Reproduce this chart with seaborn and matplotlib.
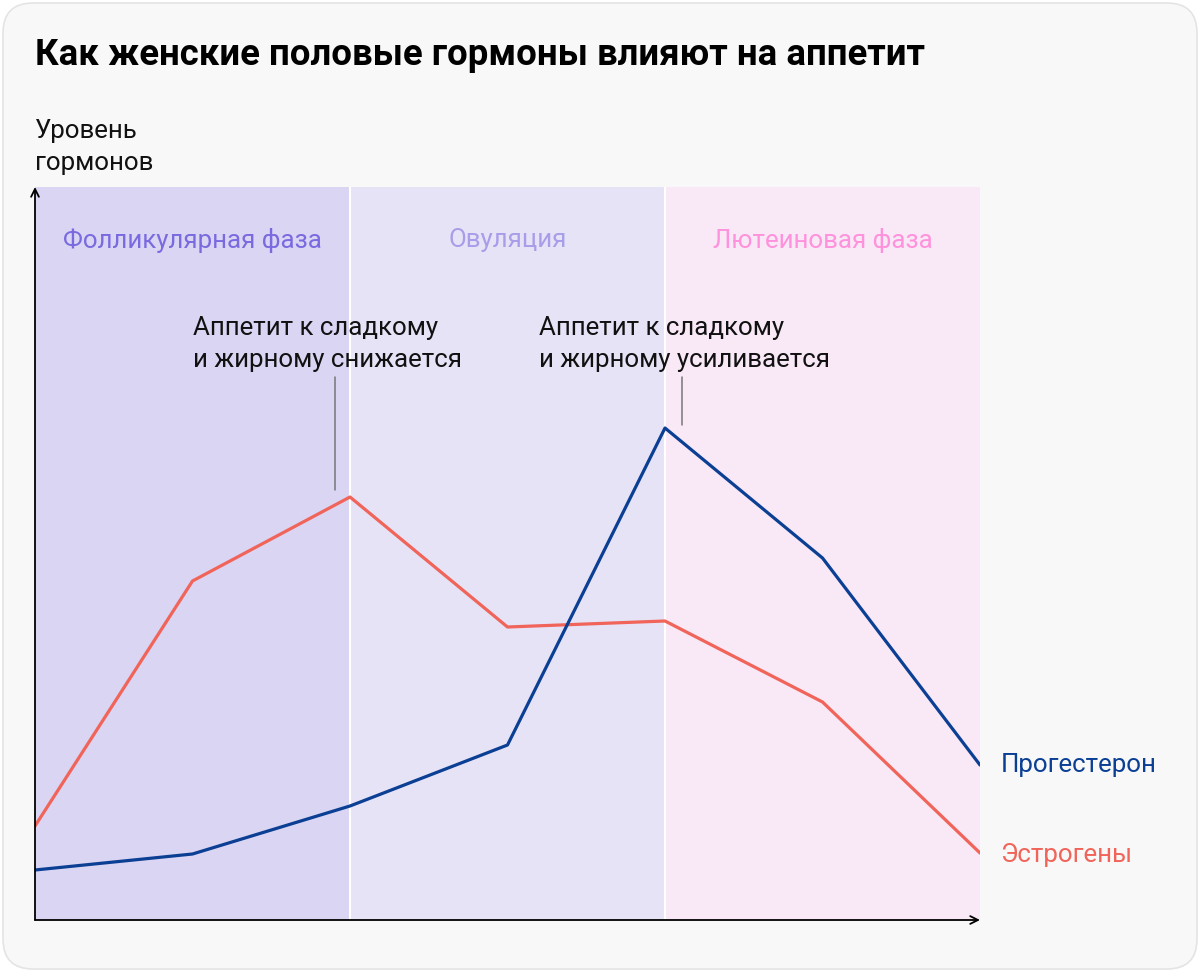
import pandas as pd
import numpy as np
import matplotlib.pyplot as plt
from matplotlib.patches import FancyBboxPatch
import seaborn as sns

# hormone levels at 7 points of the cycle (arbitrary units)
points = [0, 1, 2, 3, 4, 5, 6]
estrogen = [94, 339, 423, 293, 299, 218, 67]
progesterone = [50, 66, 114, 175, 492, 362, 155]

phases = ["Фолликулярная фаза", "Овуляция", "Лютеиновая фаза"]
phase_bounds = [(0, 2), (2, 4), (4, 6)]
phase_fill = ["#dad5f3", "#e6e3f6", "#f9e8f6"]
phase_text = ["#7a6ae0", "#a79de9", "#ff92dc"]

notes = ["Аппетит к сладкому\nи жирному снижается",
         "Аппетит к сладкому\nи жирному усиливается"]

red = "#f0645a"
blue = "#0b3f94"

df = pd.DataFrame({"point": points * 2,
                   "level": estrogen + progesterone,
                   "hormone": ["Эстрогены"] * 7 + ["Прогестерон"] * 7})

sns.set_theme(style="white")
plt.rcParams['font.family'] = ['Roboto', 'DejaVu Sans']

FS = 18.6
W, H = 1200, 972
fig = plt.figure(figsize=(12, 9.72), dpi=100)
fig.patch.set_facecolor("white")
card = FancyBboxPatch((3 / W, 3 / H), 1194 / W, 966 / H,
                      boxstyle="round,pad=0,rounding_size=0.025",
                      transform=fig.transFigure, facecolor="#f8f8f8",
                      edgecolor="#e4e4e4", linewidth=1.2, mutation_aspect=W / H,
                      zorder=-10)
fig.patches.append(card)

ax = fig.add_axes([35 / W, (H - 920) / H, 945 / W, 733 / H])
ax.set_facecolor("none")
for (a, b), c in zip(phase_bounds, phase_fill):
    ax.axvspan(a, b, color=c, lw=0, zorder=0)
for a, b in phase_bounds[1:]:
    ax.axvline(a, color="white", lw=1.5, zorder=1)

sns.lineplot(data=df, x="point", y="level", hue="hormone",
             palette={"Эстрогены": red, "Прогестерон": blue},
             linewidth=2.3, legend=False, ax=ax, zorder=3)

ax.set_xlim(0, 6)
ax.set_ylim(0, 733)
ax.set_xticks([])
ax.set_yticks([])
ax.set_xlabel("")
ax.set_ylabel("")
for s in ax.spines.values():
    s.set_visible(False)

# axis arrows
ax.annotate("", xy=(1.0, 0), xytext=(0, 0), xycoords="axes fraction",
            arrowprops=dict(arrowstyle="->", color="black", lw=1.3,
                            shrinkA=0, shrinkB=0, mutation_scale=14), annotation_clip=False)
ax.annotate("", xy=(0, 1.0), xytext=(0, 0), xycoords="axes fraction",
            arrowprops=dict(arrowstyle="->", color="black", lw=1.3,
                            shrinkA=0, shrinkB=0, mutation_scale=14), annotation_clip=False)

# phase labels
for (a, b), name, c in zip(phase_bounds, phases, phase_text):
    ax.text((a + b) / 2, 920 - 240, name, color=c, fontsize=FS,
            ha="center", va="center")

# annotations with leader lines
ax.text(1.005, 920 - 344, notes[0], fontsize=FS, color="#111111",
        ha="left", va="center", linespacing=1.4)
ax.plot([1.905, 1.905], [estrogen[2] + 7, 543], color="#777777", lw=1.1, zorder=2)
ax.text(3.2, 920 - 344, notes[1], fontsize=FS, color="#111111",
        ha="left", va="center", linespacing=1.4)
ax.plot([4.11, 4.11], [progesterone[4] + 3, 543], color="#777777", lw=1.1, zorder=2)

# series labels
ax.text(6.13, progesterone[-1], "Прогестерон", color=blue, fontsize=FS,
        ha="left", va="center", clip_on=False)
ax.text(6.13, estrogen[-1] - 2, "Эстрогены", color=red, fontsize=FS,
        ha="left", va="center", clip_on=False)

fig.text(35 / W, 1 - 55 / H, "Как женские половые гормоны влияют на аппетит",
         fontsize=26.3, fontweight="bold", color="black", ha="left", va="center")
fig.text(35 / W, 1 - 147 / H, "Уровень\nгормонов", fontsize=FS, color="#111111",
         ha="left", va="center", linespacing=1.4)

fig.savefig("out.png", dpi=100, facecolor=fig.get_facecolor())
